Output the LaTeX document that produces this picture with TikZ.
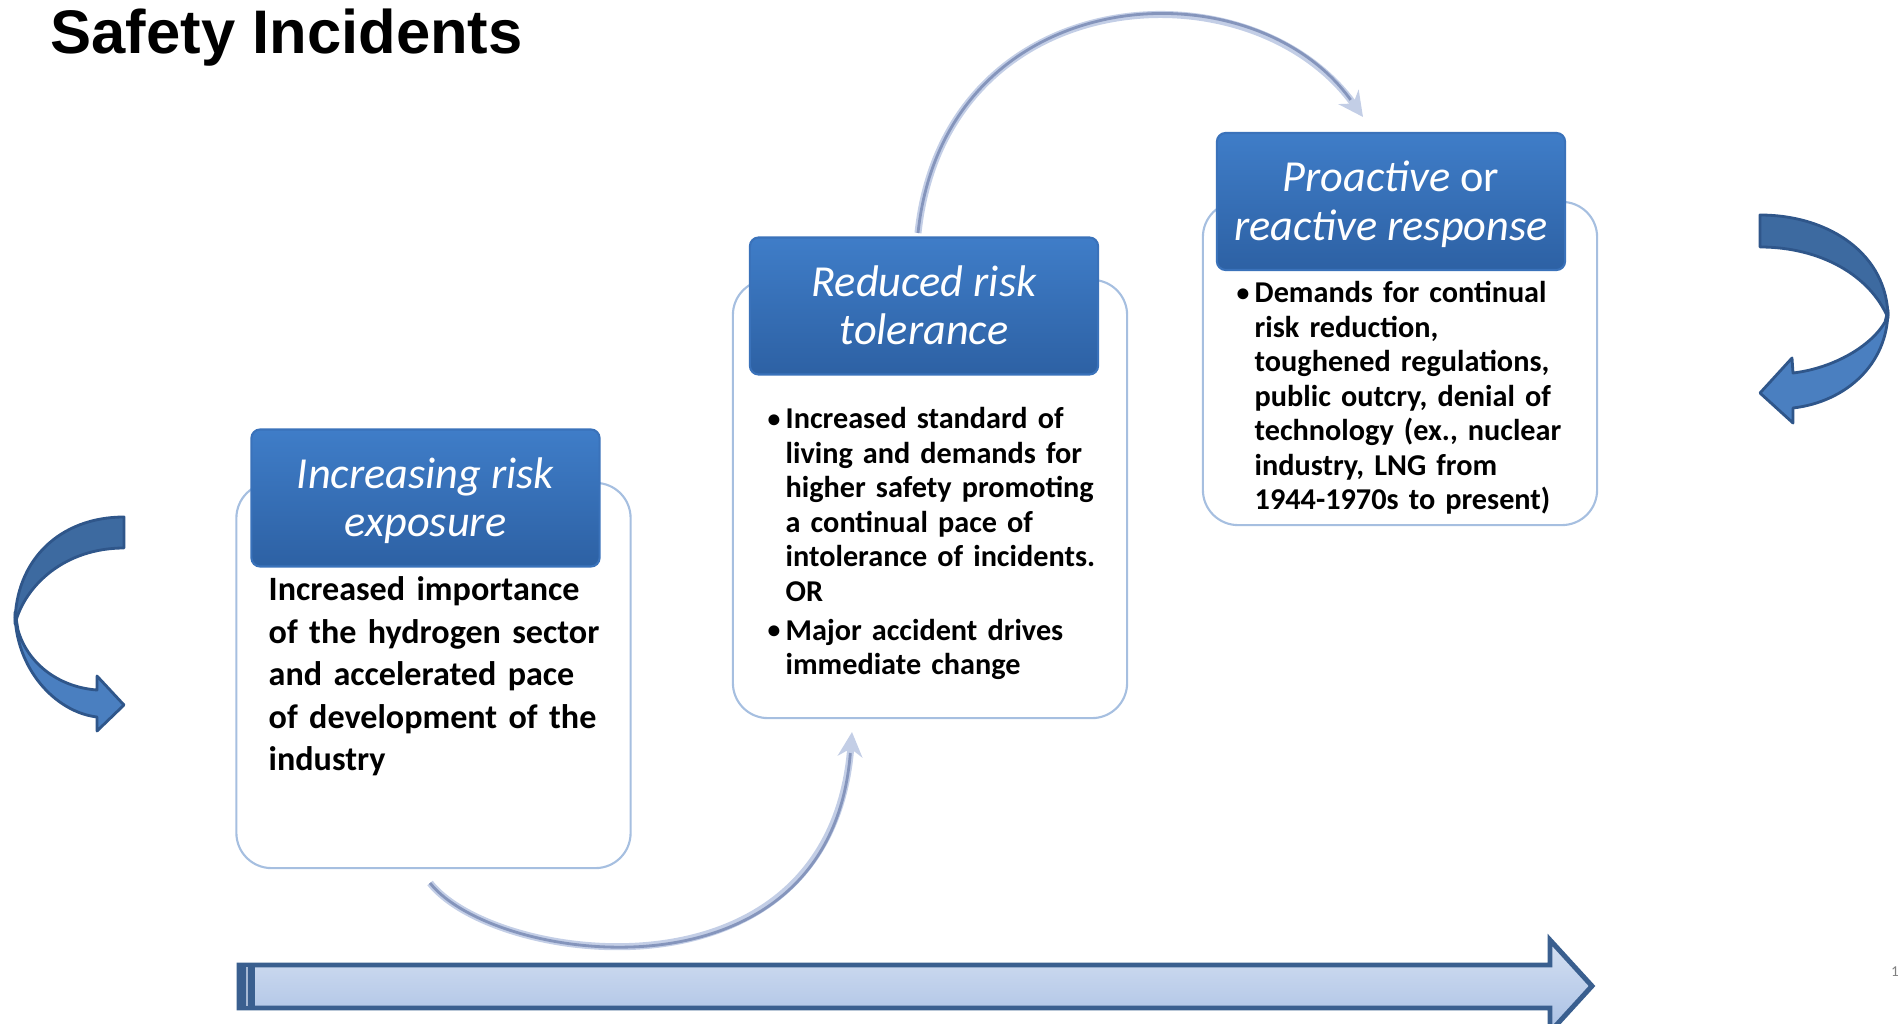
\documentclass[tikz,border=0pt]{standalone}
\usepackage{fontspec}
\setmainfont{Carlito}
\newfontfamily\titlefont{Liberation Sans}
\usepackage{tikz}
\usetikzlibrary{arrows.meta}
\definecolor{sfblue}{HTML}{3F7DC8}
\definecolor{sfbluedk}{HTML}{2D61A4}
\definecolor{sfedge}{HTML}{3A72BA}
\definecolor{sfline}{HTML}{A6BFE0}
\definecolor{sfarc}{HTML}{C3CEE6}
\definecolor{sfarcin}{HTML}{8595BC}
\definecolor{sfbend}{HTML}{3D6AA0}
\definecolor{sfbendlt}{HTML}{4A7FC0}
\definecolor{sfbendedge}{HTML}{2F568A}
\definecolor{sfbarhi}{HTML}{D5E0F2}
\definecolor{sfbarlo}{HTML}{A9C0E4}
\definecolor{sfbaredge}{HTML}{3A5F8F}
\newcommand\bulitem{\noindent\hangindent=0.18cm\hangafter=1\makebox[0.18cm][l]{\raisebox{0.1ex}{\scalebox{0.85}{\textbullet}}}}
\newcommand\hdrtop{\rule{0pt}{12.3pt}}
\tikzset{
  hdr/.style={rounded corners=2.5pt,draw=sfedge,line width=0.6pt,top color=sfblue,bottom color=sfbluedk,
    text=white,align=center,minimum width=3.48cm,minimum height=1.37cm,inner sep=0pt,
    font=\fontsize{12.6}{13.8}\selectfont\itshape},
  outl/.style={rounded corners=10pt,draw=sfline,line width=0.6pt,minimum width=3.94cm,inner sep=0pt},
  bodytxt/.style={anchor=north west,inner sep=0pt,align=left,text width=4.4cm,
    font=\bfseries\fontsize{8.6}{9.8}\selectfont},
  arcout/.style={draw=sfarc,line width=2pt,-{Stealth[length=7pt,width=7pt]}},
  arcin/.style={draw=sfarcin,line width=0.8pt,shorten >=6pt},
  bentarrow/.style={draw=sfbendedge,line width=0.8pt,line join=round},
  bar/.style={draw=sfbaredge,line width=1.4pt,top color=sfbarhi,bottom color=sfbarlo},
}
\begin{document}
\begin{tikzpicture}[x=0.01cm,y=-0.01cm]
  \useasboundingbox (0,0) rectangle (1902,1024);
  \node[anchor=base west,inner sep=0pt,font=\titlefont\bfseries\fontsize{17.5}{20}\selectfont] (title) at (50,53) {Safety Incidents};

  % outlines behind the headers
  \node[outl,minimum height=3.85cm] (b1) at (433.5,675.5) {};
  \node[outl,minimum height=4.38cm] (b2) at (930,499) {};
  \node[outl,minimum height=3.23cm] (b3) at (1400,363.5) {};

  \node[hdr] (h1) at (425.5,498) {\hdrtop Increasing risk\\exposure\strut};
  \node[hdr] (h2) at (924,306) {\hdrtop Reduced risk\\tolerance\strut};
  \node[hdr] (h3) at (1391,201.5) {\hdrtop Proactive \textup{or}\\reactive response\strut};

  \node[bodytxt,font=\bfseries\fontsize{9.7}{12.1}\selectfont] (t1) at (268,570) {\strut Increased importance\\of the hydrogen sector\\and accelerated pace\\of development of the\\industry};
  \node[bodytxt] (t2) at (767,404) {\bulitem\strut Increased standard of\newline living and demands for\newline higher safety promoting\newline a continual pace of\newline intolerance of incidents.\newline OR\par\vspace{1.3pt}\bulitem Major accident drives\newline immediate change\par};
  \node[bodytxt] (t3) at (1236,278) {\bulitem\strut Demands for continual\newline risk reduction,\newline toughened regulations,\newline public outcry, denial of\newline technology (ex., nuclear\newline industry, LNG from\newline 1944-1970s to present)\par};

  % thin arcs between the stages
  \coordinate (arcAs) at (430,883);
  \coordinate (arcAe) at (852,732);
  \coordinate (arcBs) at (918,233);
  \coordinate (arcBe) at (1363,117);
  \draw[arcout] (arcAs) .. controls (495,965) and (830,1010) .. (arcAe);
  \draw[arcin] (arcAs) .. controls (495,965) and (830,1010) .. (arcAe);
  \draw[arcout] (arcBs) .. controls (945,-20) and (1250,-40) .. (arcBe);
  \draw[arcin] (arcBs) .. controls (945,-20) and (1250,-40) .. (arcBe);

  % bent arrows at the sides
  \filldraw[bentarrow,fill=sfbendlt] (15,612) .. controls (15,668) and (55,712) .. (97,717) -- (97,731) -- (124,705)
    -- (97,676) -- (97,690) .. controls (57,687) and (27,662) .. (18,630) -- cycle;
  \filldraw[bentarrow,fill=sfbend] (124,517) .. controls (60,517) and (15,560) .. (15,624)
    .. controls (25,585) and (65,548) .. (124,548) -- cycle;
  \filldraw[bentarrow,fill=sfbendlt] (1888,310) .. controls (1888,365) and (1845,402) .. (1793,408) -- (1793,423)
    -- (1760,393) -- (1792,358) -- (1793,373) .. controls (1835,368) and (1872,345) .. (1885,322) -- cycle;
  \filldraw[bentarrow,fill=sfbend] (1760,215) .. controls (1830,215) and (1888,255) .. (1888,318)
    .. controls (1870,275) and (1820,247) .. (1760,247) -- cycle;

  % time bar
  \draw[bar] (239,965) -- (1550,965) -- (1550,940) -- (1592,986) -- (1550,1032) -- (1550,1008) -- (239,1008) -- cycle;
  \fill[sfbaredge] (237,963) rectangle (255,1010);
  \draw[sfbarhi!70!sfbaredge,line width=0.5pt] (247,967) -- (247,1006);

  \node[text=gray,inner sep=0pt,font=\fontsize{4.3}{5}\selectfont] (pg) at (1895,972) {1};
\end{tikzpicture}
\end{document}
